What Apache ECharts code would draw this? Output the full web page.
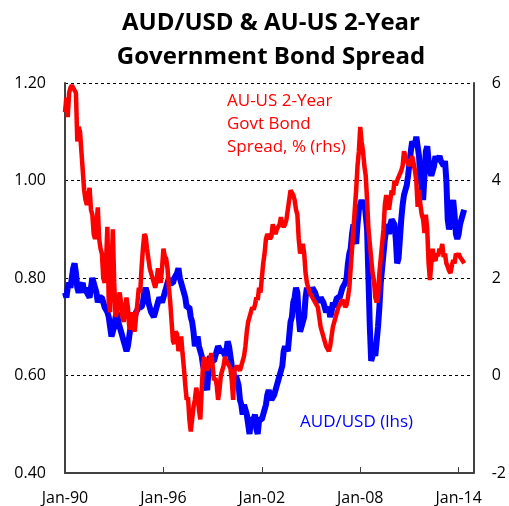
<!DOCTYPE html>
<html>
<head>
<meta charset="utf-8">
<script src="https://cdn.jsdelivr.net/npm/echarts@6/dist/echarts.min.js"></script>
<style>
  html, body { margin: 0; padding: 0; background: #fff; }
  #chart { width: 509px; height: 506px; }
</style>
</head>
<body>
<div id="chart"></div>
<script>
// monthly, starting Jan-90
const audUsd = [
  0.77, 0.76, 0.78, 0.79, 0.78, 0.80, 0.82, 0.83, 0.81, 0.78, 0.77, 0.78,
  0.78, 0.79, 0.77, 0.78, 0.77, 0.77, 0.76, 0.78, 0.80, 0.79, 0.78, 0.77,
  0.75, 0.76, 0.76, 0.76, 0.75, 0.74, 0.74, 0.73, 0.72, 0.70, 0.68, 0.69,
  0.70, 0.72, 0.73, 0.71, 0.70, 0.69, 0.68, 0.67, 0.66, 0.65, 0.66, 0.68,
  0.70, 0.71, 0.71, 0.72, 0.73, 0.73, 0.74, 0.74, 0.74, 0.75, 0.77, 0.78,
  0.77, 0.75, 0.74, 0.73, 0.73, 0.72, 0.73, 0.74, 0.75, 0.76, 0.76, 0.75,
  0.76, 0.77, 0.78, 0.79, 0.80, 0.79, 0.79, 0.79, 0.80, 0.80, 0.81, 0.82,
  0.80, 0.79, 0.78, 0.77, 0.76, 0.74, 0.74, 0.74, 0.72, 0.71, 0.69, 0.66,
  0.67, 0.68, 0.66, 0.65, 0.64, 0.62, 0.61, 0.58, 0.57, 0.61, 0.64, 0.63,
  0.63, 0.63, 0.64, 0.65, 0.66, 0.66, 0.65, 0.65, 0.65, 0.64, 0.65, 0.67,
  0.66, 0.64, 0.62, 0.61, 0.59, 0.60, 0.59, 0.58, 0.55, 0.54, 0.52, 0.54,
  0.53, 0.52, 0.50, 0.48, 0.51, 0.51, 0.51, 0.52, 0.49, 0.48, 0.51, 0.51,
  0.51, 0.52, 0.53, 0.54, 0.56, 0.57, 0.56, 0.55, 0.55, 0.56, 0.57, 0.58,
  0.59, 0.60, 0.60, 0.62, 0.65, 0.66, 0.66, 0.65, 0.68, 0.71, 0.72, 0.75,
  0.76, 0.78, 0.77, 0.72, 0.69, 0.69, 0.71, 0.72, 0.76, 0.78, 0.77, 0.78,
  0.77, 0.78, 0.78, 0.77, 0.76, 0.76, 0.75, 0.76, 0.76, 0.75, 0.74, 0.73,
  0.73, 0.74, 0.72, 0.73, 0.75, 0.74, 0.75, 0.76, 0.76, 0.76, 0.77, 0.78,
  0.78, 0.79, 0.80, 0.83, 0.85, 0.86, 0.89, 0.91, 0.88, 0.87, 0.91, 0.94,
  0.95, 0.96, 0.95, 0.96, 0.93, 0.90, 0.80, 0.70, 0.63, 0.64, 0.66, 0.64,
  0.67, 0.70, 0.74, 0.79, 0.82, 0.85, 0.88, 0.90, 0.91, 0.89, 0.91, 0.92,
  0.92, 0.91, 0.88, 0.83, 0.84, 0.88, 0.92, 0.95, 0.97, 0.98, 0.99, 1.01,
  1.01, 1.06, 1.08, 1.08, 1.07, 1.09, 1.07, 1.05, 1.00, 0.99, 0.96, 1.01,
  1.06, 1.07, 1.04, 1.02, 1.01, 1.02, 1.03, 1.05, 1.04, 1.04, 1.05, 1.04,
  1.04, 1.03, 1.04, 1.00, 0.92, 0.90, 0.91, 0.94, 0.96, 0.93, 0.89, 0.88,
  0.89, 0.91, 0.92, 0.93, 0.94
];
const spread = [
  5.4, 5.7, 5.3, 5.8, 5.9, 5.95, 5.9, 5.85, 5.8, 4.8, 5.1, 5.0,
  4.6, 4.2, 3.8, 3.6, 3.5, 3.7, 3.85, 3.4, 3.3, 2.9, 2.8, 3.1,
  3.45, 2.8, 2.6, 2.5, 2.0, 1.9, 2.3, 3.05, 1.5, 1.3, 2.2, 3.0,
  1.9, 1.2, 1.3, 1.6, 1.7, 1.5, 1.2, 1.1, 1.4, 1.6, 1.4, 1.0,
  0.95, 1.3, 1.0, 0.9, 0.87, 1.5, 1.8, 1.7, 2.2, 2.6, 2.9, 2.85,
  2.6, 2.4, 2.2, 2.1, 2.0, 1.9, 1.8, 1.95, 2.2, 2.0, 1.9, 2.2,
  2.6, 2.45, 2.4, 2.2, 1.8, 1.5, 1.1, 0.7, 0.65, 0.9, 0.85, 0.5,
  0.6, 0.8, 0.45, 0.15, -0.2, -0.5, -0.45, -0.9, -1.15, -0.9, -0.65, -0.5,
  -0.25, -0.4, -0.7, -0.9, -0.3, 0.25, 0.38, 0.2, 0.1, 0.1, 0.3, 0.46,
  0.2, -0.1, -0.05, -0.2, -0.5, -0.3, 0.0, 0.1, 0.2, 0.38, 0.3, 0.25,
  0.2, 0.15, -0.1, -0.5, 0.1, 0.15, 0.2, 0.15, 0.1, 0.2, 0.3, 0.4,
  0.6, 0.9, 1.1, 1.2, 1.3, 1.4, 1.35, 1.45, 1.6, 1.55, 1.8, 1.7,
  2.0, 2.3, 2.5, 2.8, 2.9, 2.85, 2.8, 2.85, 3.1, 3.0, 2.9, 3.0,
  3.05, 3.1, 3.25, 3.1, 3.05, 3.1, 3.2, 3.4, 3.6, 3.8, 3.75, 3.7,
  3.6, 3.4, 3.3, 2.8, 2.5, 2.6, 2.7, 2.5, 2.1, 1.9, 1.8, 1.7,
  1.7, 1.6, 1.55, 1.5, 1.45, 1.4, 1.2, 1.0, 0.9, 0.8, 0.7, 0.6,
  0.55, 0.5, 0.6, 0.8, 1.0, 1.1, 1.2, 1.3, 1.4, 1.45, 1.5, 1.55,
  1.5, 1.4, 1.45, 1.6, 1.8, 2.2, 2.6, 3.0, 3.4, 3.8, 4.3, 4.6,
  5.1, 4.8, 4.6, 4.3, 4.1, 3.6, 3.0, 2.7, 2.4, 2.1, 1.95, 1.6,
  1.5, 1.6, 2.1, 2.4, 2.7, 3.0, 3.5, 3.7, 3.5, 3.4, 3.6, 3.8,
  3.7, 4.0, 3.9, 4.0, 4.07, 4.1, 4.2, 4.3, 4.6, 4.5, 4.4, 4.36,
  4.3, 4.42, 4.5, 4.36, 4.2, 4.0, 3.46, 3.8, 3.5, 3.3, 3.2, 2.92,
  3.3, 3.0, 2.3, 1.96, 2.3, 2.6, 2.4, 2.35, 2.5, 2.45, 2.6, 2.55,
  2.7, 2.43, 2.5, 2.3, 2.23, 2.15, 2.1, 2.25, 2.37, 2.3, 2.5, 2.45,
  2.5, 2.43, 2.4, 2.35, 2.3
];
const startYear = 1990;
const xTickStep = 72; // months between labels
const leftTicks = [0.4, 0.6, 0.8, 1.0, 1.2];
const rightTicks = [-2, 0, 2, 4, 6];

const font = "'Open Sans', 'Noto Sans', sans-serif";
const axisColor = "#404040";

var myChart = echarts.init(document.getElementById("chart"));
let option = {
  animation: false,
  grid: { left: 65, right: 31, top: 83, bottom: 33 },
  graphic: [
    {
      type: "text",
      x: 271,
      y: 40,
      style: {
        text: "AUD/USD & AU-US 2-Year\nGovernment Bond Spread",
        font: "bold 24px " + font,
        fill: "#000",
        align: "center",
        verticalAlign: "middle",
        lineHeight: 34
      }
    },
    {
      type: "text",
      x: 227,
      y: 124,
      z: 10,
      style: {
        text: "AU-US 2-Year\nGovt Bond\nSpread, % (rhs)",
        font: "17px " + font,
        fill: "#ff0000",
        align: "left",
        verticalAlign: "middle",
        lineHeight: 23
      }
    },
    {
      type: "text",
      x: 300,
      y: 422,
      z: 10,
      style: {
        text: "AUD/USD (lhs)",
        font: "17px " + font,
        fill: "#0000ff",
        align: "left",
        verticalAlign: "middle"
      }
    }
  ],
  xAxis: {
    type: "value",
    min: 0,
    max: 299,
    interval: xTickStep,
    splitLine: { show: false },
    axisLine: { onZero: false, lineStyle: { color: axisColor, width: 2 } },
    axisTick: { inside: true, length: 6, lineStyle: { color: axisColor, width: 1 } },
    axisLabel: {
      color: "#000",
      fontFamily: font,
      fontSize: 16,
      margin: 17,
      formatter: function(v) {
        if (v % xTickStep !== 0) return "";
        let yy = (startYear + v / 12) % 100;
        return "Jan-" + String(yy).padStart(2, "0");
      }
    }
  },
  yAxis: [
    {
      type: "value",
      min: leftTicks[0],
      max: leftTicks[leftTicks.length - 1],
      interval: 0.2,
      axisLine: { show: true, lineStyle: { color: axisColor, width: 2 } },
      axisTick: { show: false },
      splitLine: { lineStyle: { color: "#000", type: [3, 3], width: 1 } },
      axisLabel: {
        color: "#000",
        fontFamily: font,
        fontSize: 16,
        margin: 19,
        formatter: v => v.toFixed(2)
      }
    },
    {
      type: "value",
      min: rightTicks[0],
      max: rightTicks[rightTicks.length - 1],
      interval: 2,
      axisLine: { show: true, lineStyle: { color: axisColor, width: 2 } },
      axisTick: { show: false },
      splitLine: { show: false },
      axisLabel: {
        color: "#000",
        fontFamily: font,
        fontSize: 16,
        margin: 18
      }
    }
  ],
  series: [
    {
      name: "AUD/USD (lhs)",
      type: "line",
      yAxisIndex: 0,
      showSymbol: false,
      data: audUsd.map((v, i) => [i, v]),
      lineStyle: { color: "#0000ff", width: 6 }
    },
    {
      name: "AU-US 2-Year Govt Bond Spread, % (rhs)",
      type: "line",
      yAxisIndex: 1,
      showSymbol: false,
      data: spread.map((v, i) => [i, v]),
      lineStyle: { color: "#ff0000", width: 4.5 }
    }
  ]
};
myChart.setOption(option);
</script>
</body>
</html>
